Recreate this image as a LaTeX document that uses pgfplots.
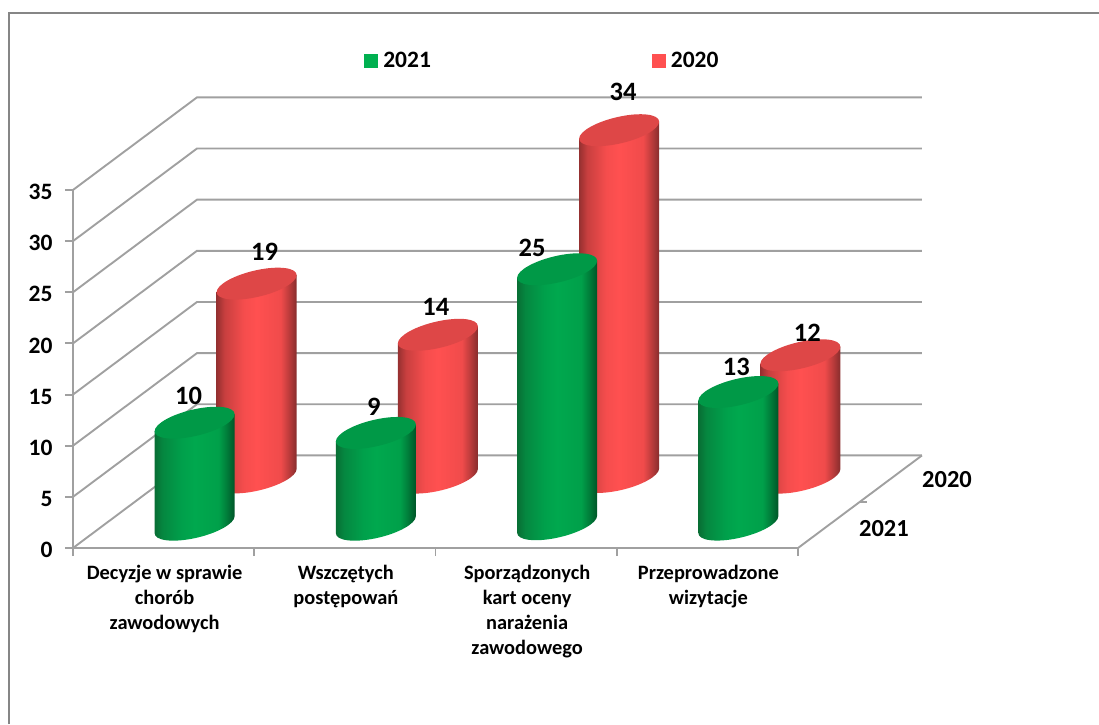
\documentclass[border=0pt]{standalone}
\usepackage{fontspec}
\setmainfont{Carlito}
\usepackage{pgfplots}
\usepackage{pgfplotstable}
\pgfplotsset{compat=1.18}

\definecolor{cGreen}{RGB}{0,176,80}
\definecolor{cRed}{RGB}{255,80,80}
\definecolor{topGreen}{RGB}{0,153,71}
\definecolor{topRed}{RGB}{222,71,71}
\definecolor{cGrid}{RGB}{160,160,160}
\definecolor{cFrame}{RGB}{134,134,134}
\definecolor{gA}{RGB}{8,110,52}
\definecolor{gB}{RGB}{5,135,64}
\definecolor{gC}{RGB}{0,160,75}
\definecolor{gD}{RGB}{0,168,78}
\definecolor{gE}{RGB}{0,160,74}
\definecolor{gF}{RGB}{0,125,58}
\definecolor{gG}{RGB}{0,85,40}
\definecolor{rA}{RGB}{150,48,48}
\definecolor{rB}{RGB}{200,63,63}
\definecolor{rC}{RGB}{245,77,77}
\definecolor{rD}{RGB}{255,80,80}
\definecolor{rE}{RGB}{240,75,75}
\definecolor{rF}{RGB}{190,60,60}
\definecolor{rG}{RGB}{135,45,45}

% 25bp-75bp of a shading is what covers the path's box
\pgfdeclarehorizontalshading{shGreen}{100bp}{
  color(0bp)=(gA); color(25bp)=(gA); color(30bp)=(gB); color(42bp)=(gC);
  color(50bp)=(gD); color(65bp)=(gE); color(70bp)=(gF); color(75bp)=(gG); color(100bp)=(gG)}
\pgfdeclarehorizontalshading{shRed}{100bp}{
  color(0bp)=(rA); color(25bp)=(rA); color(30bp)=(rB); color(42bp)=(rC);
  color(50bp)=(rD); color(65bp)=(rE); color(70bp)=(rF); color(75bp)=(rG); color(100bp)=(rG)}

% one cylinder: the mark sits on the top centre, \val gives its height
\newcommand{\cylinder}[2]{%
  \pgfmathsetlengthmacro{\cylH}{\val*10.2pt}%
  \pgfpathmoveto{\pgfqpoint{-40pt}{-8.5pt}}%
  \pgfpathlineto{\pgfpoint{-40pt}{-8.5pt-\cylH}}%
  \pgfpatharcaxes{180}{360}{\pgfqpoint{40pt}{8.5pt}}{\pgfqpoint{0pt}{13.5pt}}%
  \pgfpathlineto{\pgfqpoint{40pt}{8.5pt}}%
  \pgfpathclose
  \pgfshadepath{#1}{0}%
  \pgfusepath{discard}%
  \pgfsetfillcolor{#2}%
  \pgfpathellipse{\pgfpointorigin}{\pgfqpoint{40pt}{8.5pt}}{\pgfqpoint{0pt}{13.5pt}}%
  \pgfusepathqfill}
\pgfdeclareplotmark{cylGreen}{\cylinder{shGreen}{topGreen}}
\pgfdeclareplotmark{cylRed}{\cylinder{shRed}{topRed}}

\pgfplotstableread{
x   v  dx  dy
0.5 10 -6  27
1.5 9  -2  26
2.5 25 -25 21
3.5 13 -2  25
}\dataGreen
\pgfplotstableread{
x   v  dx  dy
0.5 19 8   32
1.5 14 -2  28
2.5 34 4   38
3.5 12 7   22
}\dataRed

\pgfplotsset{
  geom/.style={x=181.25pt,y=10.23pt,xmin=0,xmax=4,ymin=0,ymax=35,clip=false,
    anchor=south west},
  series/.style={geom,hide axis,
    only marks,
    scatter,
    scatter src=explicit,
    visualization depends on={\thisrow{v}\as\val},
    visualization depends on={\thisrow{dx}\as\dx},
    visualization depends on={\thisrow{dy}\as\dy},
    nodes near coords,
    every node near coord/.append style={anchor=center,xshift=\dx pt,yshift=\dy pt,
      font=\fontsize{26.5}{28}\selectfont\bfseries,text=black,
      /pgf/number format/assume math mode=true}},
}

\begin{document}
\begin{tikzpicture}[x=1pt,y=1pt]
\useasboundingbox (0,0) rectangle (1099,724);
\draw[cFrame,line width=2pt] (8.5,0) -- (8.5,711) -- (1099,711);

\begin{axis}[geom,
    at={(73pt,176pt)},
    axis x line*=bottom,
    axis y line*=left,
    axis line style={cGrid,line width=1.9pt},
    tick style={cGrid,line width=1.9pt},
    tick align=outside,
    major tick length=8pt,
    ytick={0,5,...,35},
    xtick={0,1,2,3,4},
    x tick label as interval,
    xticklabels={Decyzje w sprawie\\chorób\\zawodowych,
      Wszczętych\\postępowań,
      Sporządzonych\\kart oceny\\narażenia\\zawodowego,
      Przeprowadzone\\wizytacje},
    xticklabel style={align=center,font=\fontsize{20.4}{25}\selectfont\bfseries,
      yshift=-6pt,xshift=1pt},
    yticklabel style={font=\fontsize{23.5}{25}\selectfont\bfseries,xshift=-9pt,yshift=-2pt,
      /pgf/number format/assume math mode=true},
    legend columns=2,
    legend cell align=left,
    legend style={at={(axis cs:2.59,47.65)},anchor=center,draw=none,fill=none,
      font=\fontsize{23.5}{25}\selectfont\bfseries,
      /tikz/column 2/.style={column sep=219pt}},
    legend image code/.code={\fill[#1] (0pt,-6.5pt) rectangle (13pt,6.5pt); \path (16.5pt,0pt);},
  ]
  \addlegendimage{cGreen}
  \addlegendentry{2021}
  \addlegendimage{cRed}
  \addlegendentry{2020}
  % walls and floor
  \addplot[cGrid,line width=1.9pt,forget plot] coordinates {(0,0)(0.684,9.05)(4.684,9.05)};
  \addplot[cGrid,line width=1.9pt,forget plot] coordinates {(0,5)(0.684,14.05)(4.684,14.05)};
  \addplot[cGrid,line width=1.9pt,forget plot] coordinates {(0,10)(0.684,19.05)(4.684,19.05)};
  \addplot[cGrid,line width=1.9pt,forget plot] coordinates {(0,15)(0.684,24.05)(4.684,24.05)};
  \addplot[cGrid,line width=1.9pt,forget plot] coordinates {(0,20)(0.684,29.05)(4.684,29.05)};
  \addplot[cGrid,line width=1.9pt,forget plot] coordinates {(0,25)(0.684,34.05)(4.684,34.05)};
  \addplot[cGrid,line width=1.9pt,forget plot] coordinates {(0,30)(0.684,39.05)(4.684,39.05)};
  \addplot[cGrid,line width=1.9pt,forget plot] coordinates {(0,35)(0.684,44.05)(4.684,44.05)};
  \addplot[cGrid,line width=1.9pt,forget plot] coordinates {(4,0)(4.684,9.05)};
  \addplot[cGrid,line width=1.9pt,forget plot] coordinates {(4.342,4.525)(4.38,4.525)};
  \node[font=\fontsize{24.5}{26}\selectfont\bfseries] at (axis cs:4.474,1.95) {2021};
  \node[font=\fontsize{24.5}{26}\selectfont\bfseries] at (axis cs:4.822,6.74) {2020};
\end{axis}

\begin{axis}[series,at={(166pt,246pt)}]
  \addplot[mark=cylRed] table[x=x,y=v,meta=v] {\dataRed};
\end{axis}

\begin{axis}[series,at={(104pt,199pt)}]
  \addplot[mark=cylGreen] table[x=x,y=v,meta=v] {\dataGreen};
\end{axis}
\end{tikzpicture}
\end{document}
